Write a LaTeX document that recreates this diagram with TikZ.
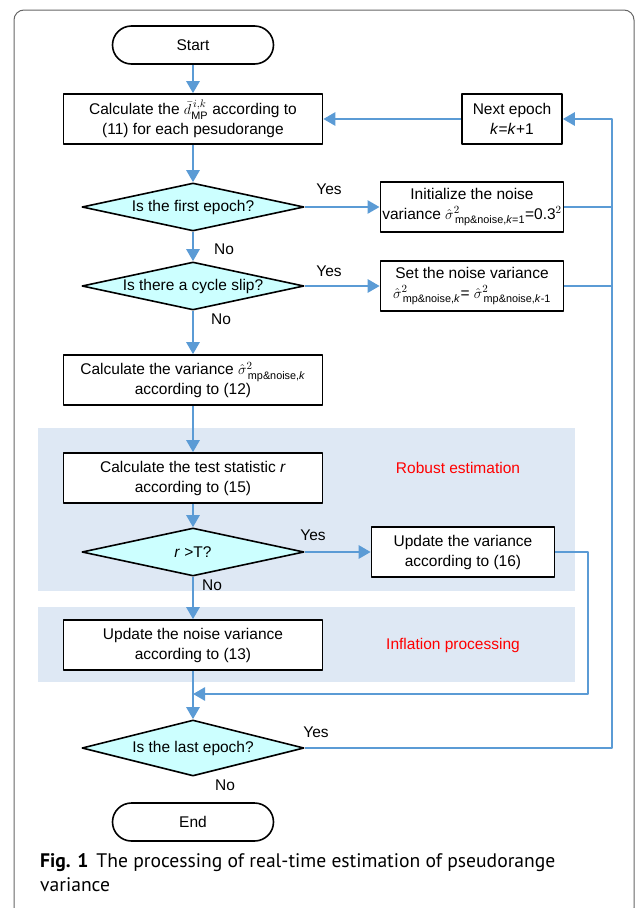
\documentclass[tikz,border=0pt]{standalone}
\usepackage{amsmath}
\usepackage{fontspec}
\setmainfont{Liberation Sans}
\newfontfamily\capfont{PT Sans}
\usetikzlibrary{arrows.meta,shapes.geometric}
\definecolor{flowblue}{RGB}{91,155,213}
\definecolor{regionblue}{RGB}{222,232,244}
\definecolor{decfill}{RGB}{204,255,255}
\newcommand{\sighat}[1]{\hat{\sigma}^{2}_{\,\text{mp\&noise,#1}}}
\begin{document}
\begin{tikzpicture}[x=1pt,y=-1pt,line join=round,
  font=\fontsize{15.5}{20}\selectfont,
  >={Triangle[length=12pt,width=13pt]},
  proc/.style={draw,line width=1.6pt,fill=white,align=center,
    minimum width=259pt,minimum height=50pt,inner sep=2pt},
  term/.style={draw,line width=1.6pt,rounded corners=19pt,
    minimum width=161pt,minimum height=38pt},
  decision/.style={diamond,draw,line width=1.6pt,fill=decfill,
    minimum width=222pt,minimum height=48pt,inner sep=0pt},
  flow/.style={draw=flowblue,line width=2.6pt},
  region/.style={text=red}]
  \useasboundingbox (0,0) rectangle (637,908);
  % frame and shaded regions
  \draw[black!60,line width=1pt,rounded corners=10pt] (14,10) rectangle (634,918);
  \fill[regionblue] (38,428) rectangle (575,591);
  \fill[regionblue] (38,607) rectangle (575,682);

  % main column
  \node[term] (start) at (193,45) {Start};
  \node[proc] (calcd) at (193,119)
    {Calculate the $\bar{d}^{\,i,k}_{\mathrm{MP}}$ according to\\(11) for each pesudorange};
  \node[decision,label=center:{Is the first epoch?}] (first) at (193,207) {};
  \node[decision,label=center:{Is there a cycle slip?}] (slip) at (193,286) {};
  \node[proc] (calcvar) at (193,380)
    {Calculate the variance $\sighat{\textit{k}}$\\according to (12)};
  \node[proc] (stat) at (193,478)
    {Calculate the test statistic \textit{r}\\according to (15)};
  \node[decision,label=center:{\textit{r} >T?}] (rt) at (193,552) {};
  \node[proc] (upnoise) at (193,645)
    {Update the noise variance\\according to (13)};
  \node[decision,minimum height=56pt,label=center:{Is the last epoch?}] (last) at (193,748) {};
  \node[term] (end) at (193,822) {End};

  % right column
  \node[proc,minimum width=100pt] (next) at (512,119)
    {Next epoch\\\textit{k}=\textit{k}+1};
  \node[proc,minimum width=183pt] (init) at (472,207)
    {Initialize the noise\\variance $\sighat{\textit{k}=1}$=0.3$^{2}$};
  \node[proc,minimum width=183pt] (setv) at (472,286)
    {Set the noise variance\\$\sighat{\textit{k}}$= $\sighat{\textit{k}-1}$};
  \node[proc,minimum width=183pt] (upd) at (463,552)
    {Update the variance\\according to (16)};
  \node[region] (robust) at (458,468) {Robust estimation};
  \node[region] (inflation) at (453,645) {Inflation processing};

  % branch labels
  \node (yes1) at (329,189) {Yes};
  \node (yes2) at (329,271) {Yes};
  \node (yes3) at (313,535) {Yes};
  \node (yes4) at (316,732) {Yes};
  \node (no1) at (224,249) {No};
  \node (no2) at (221,319) {No};
  \node (no3) at (212,585) {No};
  \node (no4) at (225,785) {No};

  % connectors
  \coordinate (merge) at (193,694);
  \coordinate (updturn) at (588,694);
  \coordinate (loopturn) at (612,119);
  \draw[flow,->] (start) -- (calcd);
  \draw[flow,->] (calcd) -- (first);
  \draw[flow,->] (first) -- (init);
  \draw[flow,->] (first) -- (slip);
  \draw[flow,->] (slip) -- (setv);
  \draw[flow,->] (slip) -- (calcvar);
  \draw[flow,->] (calcvar) -- (stat);
  \draw[flow,->] (stat) -- (rt);
  \draw[flow,->] (rt) -- (upd);
  \draw[flow,->] (rt) -- (upnoise);
  \draw[flow,->] (upnoise) -- (last);
  \draw[flow,->] (upd.east) -| (updturn) -- (merge);
  \draw[flow,->] (last.east) -| (loopturn) -- (next.east);
  \draw[flow] (init.east) -- (init.east -| loopturn);
  \draw[flow] (setv.east) -- (setv.east -| loopturn);
  \draw[flow,->] (next) -- (calcd);

  % caption
  \node[anchor=north west,align=left,inner sep=0pt,
    font=\capfont\fontsize{19.6}{24}\selectfont] (caption) at (40,853)
    {\textbf{Fig. 1}\hspace{8pt}The processing of real-time estimation of pseudorange\\variance};
\end{tikzpicture}
\end{document}
